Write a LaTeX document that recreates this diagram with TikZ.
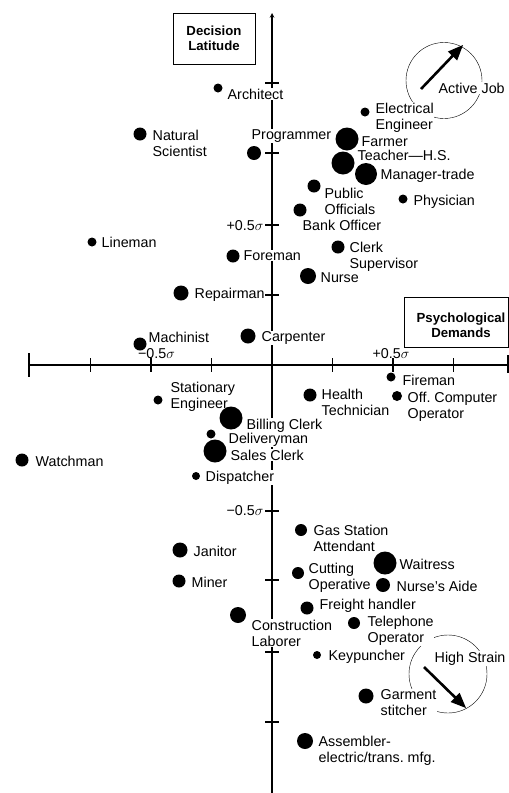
\documentclass[tikz,border=0pt]{standalone}
\usepackage{fontspec}
\setmainfont{Liberation Sans}
\usetikzlibrary{arrows}

\tikzset{
  job/.style={circle, fill=black, inner sep=0pt, minimum size=#1},
  jobname/.style={anchor=north west, align=left, fill=white, inner sep=0.5pt, font=\fontsize{14.3}{16}\selectfont},
  ticklabel/.style={inner sep=0pt, font=\fontsize{14.3}{16}\selectfont},
  axisname/.style={align=center, inner sep=0pt, font=\fontsize{13.2}{15}\selectfont\bfseries},
  axisline/.style={line width=1.1pt},
}

\begin{document}
\begin{tikzpicture}[x=1pt, y=-1pt]
      \useasboundingbox (0,0) rectangle (509,793);
      \draw[axisline, -stealth] (272,793) -- (272,13);
      \draw[axisline] (29,365) -- (508.5,365);
      \draw[axisline] (29,353) -- (29,377);
      \draw[axisline] (508,355) -- (508,373);
      \foreach \x in {90.5,151,211.5,332.5,393,453.5}
        \draw[axisline] (\x,358) -- (\x,372);
      \foreach \y in {83,153,225,295,511,580,652,722}
        \draw[axisline] (265,\y) -- (279,\y);
      \node[ticklabel] (vplus) at (245,226) {+0.5$\sigma$};
      \node[ticklabel] (vminus) at (245,511) {−0.5$\sigma$};
      \node[ticklabel] (hminus) at (156.5,354) {−0.5$\sigma$};
      \node[ticklabel] (hplus) at (391,354) {+0.5$\sigma$};

      \draw[thick] (173,13) rectangle (255,64) node[axisname, pos=.5] (latitude) {Decision\\Latitude};
      \draw[thick] (404,297) rectangle (508.5,347);
      \node[axisname] (demands) at (461,325) {Psychological\\Demands};

      \draw (444,80.5) circle[radius=38pt];
      \node[jobname] (activelab) at (438,82) {Active Job};
      \coordinate (activefrom) at (421,89);
      \coordinate (activeto) at (463,45);
      \draw[line width=2.6pt, -triangle 45] (activefrom) -- (activeto);

      \draw (448,674) circle[radius=39pt];
      \node[jobname] (strainlab) at (434,651) {High Strain};
      \coordinate (strainfrom) at (424,667);
      \coordinate (strainto) at (466,708);
      \draw[line width=2.6pt, -triangle 45] (strainfrom) -- (strainto);

      \node[jobname] (architectlab) at (227,88) {Architect};
      \node[jobname] (natscilab) at (152,129) {Natural\\Scientist};
      \node[jobname] (programmerlab) at (251,129) {Programmer};
      \node[jobname] (elecenglab) at (375,102) {Electrical\\Engineer};
      \node[jobname] (farmerlab) at (361,136) {Farmer};
      \node[jobname] (teacherlab) at (357,149) {Teacher---H.S.};
      \node[jobname] (managerlab) at (380,168) {Manager-trade};
      \node[jobname] (publiclab) at (324,187) {Public\\Officials};
      \node[jobname] (physicianlab) at (413,194) {Physician};
      \node[jobname] (banklab) at (302,219) {Bank Officer};
      \node[jobname] (clerksuplab) at (349,241) {Clerk\\Supervisor};
      \node[jobname] (nurselab) at (320,272) {Nurse};
      \node[jobname] (linemanlab) at (101,236) {Lineman};
      \node[jobname] (foremanlab) at (243,250) {Foreman};
      \node[jobname] (repairmanlab) at (194,287) {Repairman};
      \node[jobname] (machinistlab) at (148,331) {Machinist};
      \node[jobname] (carpenterlab) at (261,331) {Carpenter};
      \node[jobname] (firemanlab) at (402,374) {Fireman};
      \node[jobname] (healthlab) at (321,388) {Health\\Technician};
      \node[jobname] (offcomplab) at (407,391) {Off.\ Computer\\Operator};
      \node[jobname] (statenglab) at (170,381) {Stationary\\Engineer};
      \node[jobname] (billinglab) at (246,418) {Billing Clerk};
      \node[jobname] (deliverylab) at (228,432) {Deliveryman};
      \node[jobname] (saleslab) at (230,449) {Sales Clerk};
      \node[jobname] (dispatcherlab) at (205,470) {Dispatcher};
      \node[jobname] (watchmanlab) at (35,455) {Watchman};
      \node[jobname] (gaslab) at (313,524) {Gas Station\\Attendant};
      \node[jobname] (janitorlab) at (193,545) {Janitor};
      \node[jobname] (waitresslab) at (399,558) {Waitress};
      \node[jobname] (cuttinglab) at (308,562) {Cutting\\Operative};
      \node[jobname] (aidelab) at (396,580) {Nurse's Aide};
      \node[jobname] (minerlab) at (191,576) {Miner};
      \node[jobname] (freightlab) at (319,598) {Freight handler};
      \node[jobname] (constructlab) at (251,619) {Construction\\Laborer};
      \node[jobname] (phonelab) at (367,615) {Telephone\\Operator};
      \node[jobname] (keypunchlab) at (328,649) {Keypuncher};
      \node[jobname] (garmentlab) at (380,689) {Garment\\stitcher};
      \node[jobname] (assemblerlab) at (318,735) {Assembler-\\electric/trans.\ mfg.};

      \node[job=9pt] (architect) at (218,88) {};
      \node[job=13pt] (natsci) at (140,134) {};
      \node[job=14pt] (programmer) at (254,153) {};
      \node[job=9pt] (eleceng) at (365,112) {};
      \node[job=23pt] (farmer) at (347,139) {};
      \node[job=23pt] (teacher) at (343,163) {};
      \node[job=22pt] (manager) at (366,174) {};
      \node[job=13pt] (public) at (314,186) {};
      \node[job=9pt] (physician) at (403,199) {};
      \node[job=13pt] (bank) at (300,210) {};
      \node[job=13pt] (clerksup) at (338,247) {};
      \node[job=16pt] (nurse) at (308,276) {};
      \node[job=9pt] (lineman) at (92,242) {};
      \node[job=13pt] (foreman) at (233,256) {};
      \node[job=15pt] (repairman) at (181,293) {};
      \node[job=13pt] (machinist) at (140,344) {};
      \node[job=15pt] (carpenter) at (248,336) {};
      \node[job=9pt] (fireman) at (391,377) {};
      \node[job=13pt] (health) at (310,395) {};
      \node[job=10pt] (offcomp) at (397,396) {};
      \node[job=9pt] (stateng) at (158,400) {};
      \node[job=23pt] (billing) at (231,418) {};
      \node[job=9pt] (delivery) at (211,434) {};
      \node[job=23pt] (sales) at (215,451) {};
      \node[job=8pt] (dispatcher) at (196,476) {};
      \node[job=13pt] (watchman) at (22,460) {};
      \node[job=12pt] (gas) at (301,530) {};
      \node[job=15pt] (janitor) at (180,550) {};
      \node[job=23pt] (waitress) at (385,563) {};
      \node[job=12pt] (cutting) at (298,573) {};
      \node[job=14pt] (aide) at (383,585) {};
      \node[job=13pt] (miner) at (179,581) {};
      \node[job=13pt] (freight) at (307,608) {};
      \node[job=16pt] (construct) at (238,615) {};
      \node[job=12pt] (phone) at (354,623) {};
      \node[job=8pt] (keypunch) at (317,655) {};
      \node[job=15pt] (garment) at (366,696) {};
      \node[job=16pt] (assembler) at (305,741) {};
\end{tikzpicture}
\end{document}
